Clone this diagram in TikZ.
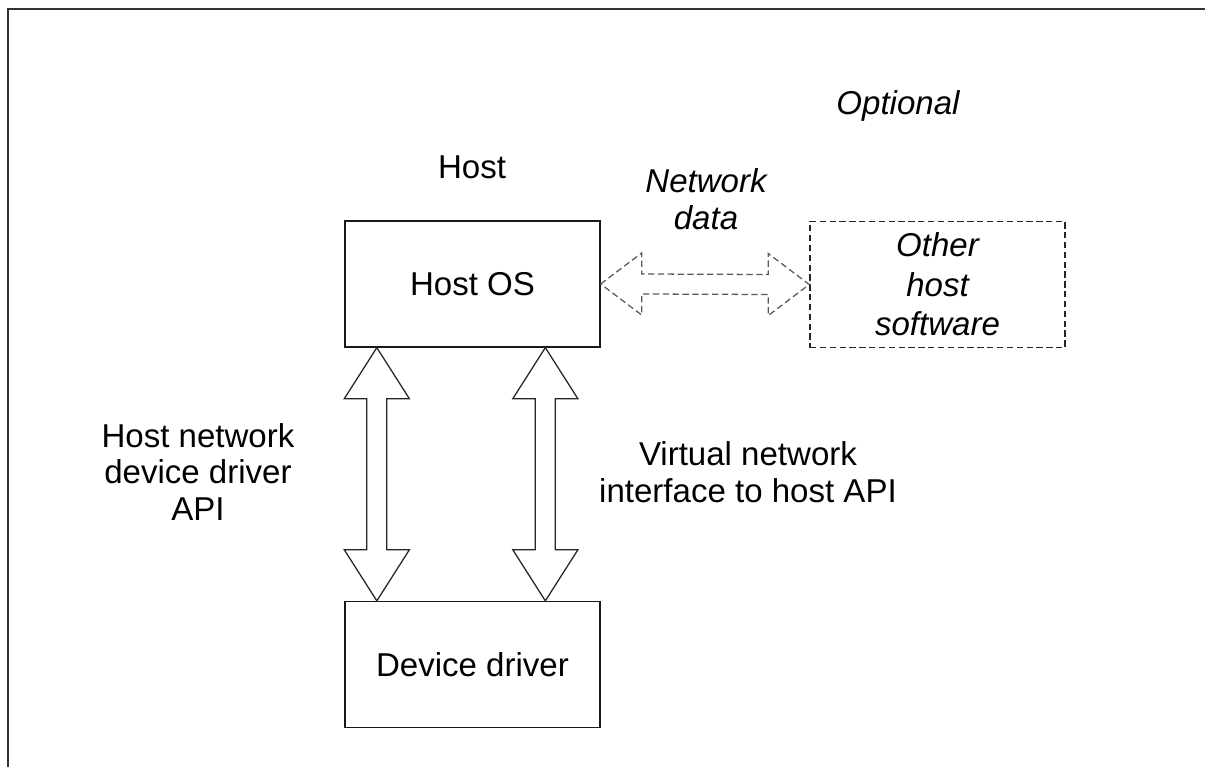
\documentclass[tikz,border=0pt]{standalone}
\usepackage{fontspec}
\setmainfont{Liberation Sans}
\usetikzlibrary{calc}
\newcommand{\diafont}{\fontsize{23.5}{26}\selectfont}
\tikzset{box/.style={draw=black!90, line width=0.9pt, minimum width=6.375cm,
   minimum height=3.15cm, inner sep=0pt},
 optbox/.style={box, draw=black!85, line width=1pt, dash pattern=on 4.5pt off 2.5pt},
 fat arrow/.style={draw=black!85, line width=0.9pt, fill=white},
 dashed arrow/.style={draw=black!65, line width=0.9pt, dash pattern=on 4.5pt off 2.5pt},
 }

\begin{document}
\begin{tikzpicture}[x=0.025cm, y=-0.025cm, font=\diafont]
    \useasboundingbox (0,0) rectangle (1205,767);
    \draw[line width=1pt, black!80] (8,767) -- (8,9) -- (1205,9);

    \node[box] (hostos) at (472.5,284) {Host OS};
    \node[box] (driver) at (472.5,664.5) {Device driver};
    \node[optbox, align=center, font={\fontsize{23.5}{28.2}\selectfont\itshape}] (other) at (937.5,284.5) {Other\\host\\software};

    \node[anchor=base] (hostlbl) at (472,179) {Host};
    \node[anchor=base, font=\diafont\itshape] (optlbl) at (898,115) {Optional};
    \node[align=center, font=\diafont\itshape] (netdata) at (706,199) {Network\\data};
    \node[align=center] (drvapi) at (198,472) {Host network\\device driver\\API};
    \node[align=center, font={\fontsize{23.5}{26.3}\selectfont}] (vnetapi) at (748,472) {Virtual network\\interface to host API};

    % the two API arrows between host OS and driver
    \foreach \off[count=\i] in {32.5, 201} {
        \coordinate (up\i) at ($(hostos.south west)+(\off,0)$);
        \coordinate (dn\i) at ($(driver.north west)+(\off,0)$);
        \draw[fat arrow] (up\i) -- ($(up\i)+(32.5,51)$) -- ($(up\i)+(10,51)$) -- ($(dn\i)+(10,-51)$)
            -- ($(dn\i)+(32.5,-51)$) -- (dn\i) -- ($(dn\i)+(-32.5,-51)$) -- ($(dn\i)+(-10,-51)$)
            -- ($(up\i)+(-10,51)$) -- ($(up\i)+(-32.5,51)$) -- cycle;
    }

    \coordinate (lt) at (hostos.east);
    \coordinate (rt) at (other.west);
    \draw[dashed arrow] (lt) -- ($(lt)+(41,-31)$) -- ($(lt)+(41,-10)$) -- ($(rt)+(-41,-10)$)
        -- ($(rt)+(-41,-31)$) -- (rt) -- ($(rt)+(-41,31)$) -- ($(rt)+(-41,10)$)
        -- ($(lt)+(41,10)$) -- ($(lt)+(41,31)$) -- cycle;
\end{tikzpicture}
\end{document}
